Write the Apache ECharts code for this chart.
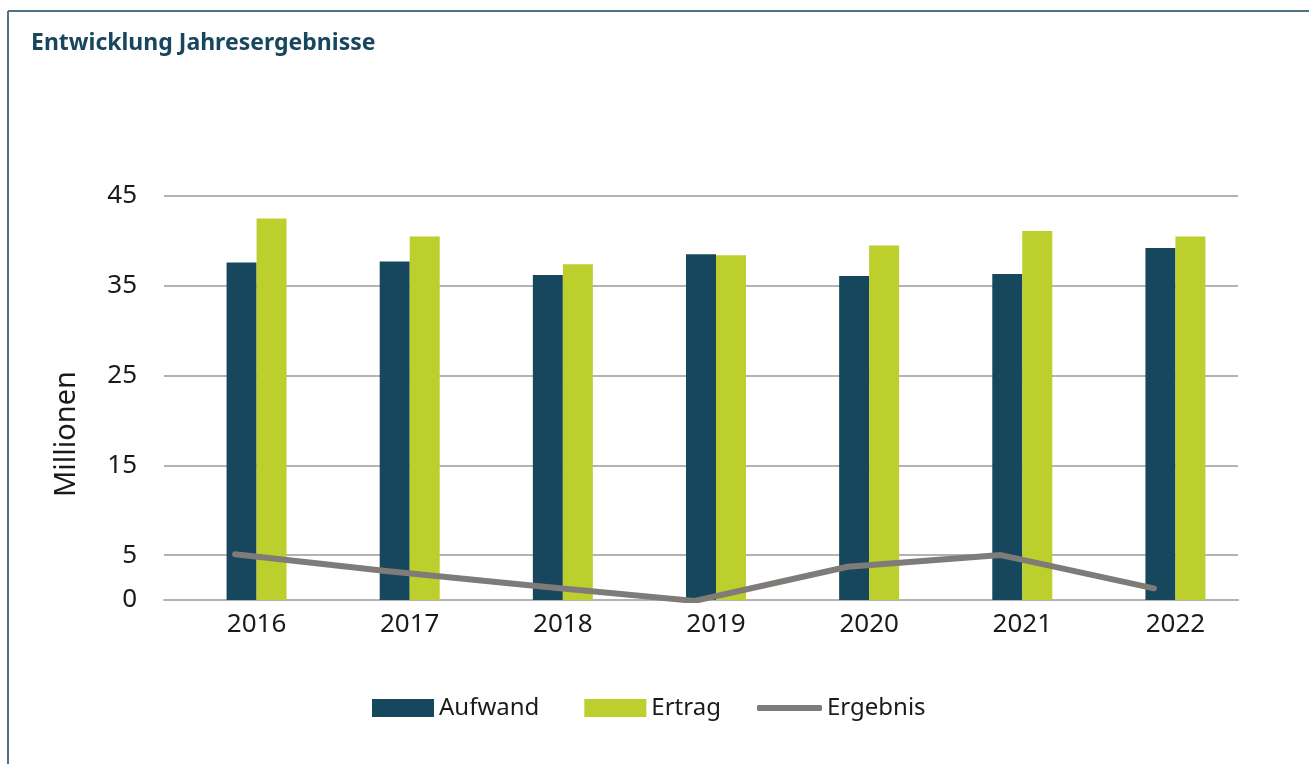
<!DOCTYPE html>
<html>
<head>
<meta charset="utf-8">
<script src="https://cdn.jsdelivr.net/npm/echarts@6.0.0/dist/echarts.min.js"></script>
<style>
  html, body { margin: 0; padding: 0; background: #fff; }
  #chart { width: 1309px; height: 764px; }
</style>
</head>
<body>
<div id="chart"></div>
<script>
var years = ['2016', '2017', '2018', '2019', '2020', '2021', '2022'];
var aufwand = [37.6, 37.7, 36.2, 38.5, 36.1, 36.3, 39.2];
var ertrag = [42.5, 40.5, 37.4, 38.4, 39.5, 41.1, 40.5];
var ergebnis = [5.1, 3.2, 1.5, -0.1, 3.7, 5.0, 1.3];
var yTicks = [0, 5, 15, 25, 35, 45];

var myChart = echarts.init(document.getElementById('chart'));

var font = 'Noto Sans';
var gridColors = [];
for (var v = 0; v <= 45; v += 5) {
  gridColors.push(yTicks.indexOf(v) >= 0 ? '#b3b3b3' : 'rgba(0,0,0,0)');
}

var option = {
  animation: false,
  textStyle: { fontFamily: font },
  graphic: [
    {
      type: 'line',
      shape: { x1: 8, y1: 11, x2: 1309, y2: 11 },
      style: { stroke: '#4d7284', lineWidth: 2 }
    },
    {
      type: 'line',
      shape: { x1: 8, y1: 11, x2: 8, y2: 764 },
      style: { stroke: '#4d7284', lineWidth: 2 }
    },
    {
      type: 'text',
      left: 31,
      top: 32,
      style: {
        text: 'Entwicklung Jahresergebnisse',
        font: 'bold 23px "Noto Sans"',
        fill: '#17475c'
      }
    },
    {
      type: 'text',
      x: 67,
      y: 434,
      rotation: Math.PI / 2,
      style: {
        text: 'Millionen',
        font: '29px "Noto Sans"',
        fill: '#1a1a1a',
        align: 'center',
        verticalAlign: 'middle'
      }
    }
  ],
  legend: [
    {
      top: 691,
      left: 367,
      itemWidth: 62,
      itemHeight: 18,
      itemGap: 45,
      textStyle: { fontSize: 24, color: '#1a1a1a', fontFamily: font },
      data: [
        { name: 'Aufwand', icon: 'rect' },
        { name: 'Ertrag', icon: 'rect' }
      ]
    },
    {
      top: 691,
      left: 752,
      itemWidth: 65,
      itemHeight: 6,
      textStyle: { fontSize: 24, color: '#1a1a1a', fontFamily: font },
      data: [
        { name: 'Ergebnis', icon: 'roundRect' }
      ]
    }
  ],
  grid: [
    { left: 164, right: 71, top: 196, bottom: 164 },
    { left: 180, right: 57, top: 196, bottom: 164 }
  ],
  xAxis: [
    {
      gridIndex: 0,
      type: 'value',
      min: 0,
      max: 1,
      axisLine: { show: true, lineStyle: { color: '#b3b3b3', width: 2 } },
      axisTick: { show: false },
      axisLabel: { show: false },
      splitLine: { show: false }
    },
    {
      gridIndex: 1,
      type: 'category',
      data: years,
      axisLine: { show: false },
      axisTick: { show: false },
      axisLabel: { fontSize: 26, color: '#1a1a1a', margin: 12, fontFamily: font }
    },
    {
      gridIndex: 1,
      type: 'value',
      show: false,
      min: -0.36,
      max: 6.64
    }
  ],
  yAxis: [
    {
      gridIndex: 0,
      type: 'value',
      min: 0,
      max: 45,
      interval: 5,
      axisLine: { show: false },
      axisTick: { show: false },
      axisLabel: {
        fontSize: 26,
        color: '#1a1a1a',
        margin: 27,
        fontFamily: font,
        formatter: function (val) {
          return yTicks.indexOf(val) >= 0 ? String(val) : '';
        }
      },
      splitLine: { lineStyle: { color: gridColors, width: 2 } }
    },
    {
      gridIndex: 1,
      type: 'value',
      min: 0,
      max: 45,
      show: false,
      splitLine: { show: false }
    }
  ],
  series: [
    {
      name: 'Aufwand',
      type: 'bar',
      xAxisIndex: 1,
      yAxisIndex: 1,
      barWidth: 30,
      barGap: '0%',
      itemStyle: { color: '#17475c' },
      data: aufwand
    },
    {
      name: 'Ertrag',
      type: 'bar',
      xAxisIndex: 1,
      yAxisIndex: 1,
      barWidth: 30,
      itemStyle: { color: '#bdcf2c' },
      data: ertrag
    },
    {
      name: 'Ergebnis',
      type: 'line',
      xAxisIndex: 2,
      yAxisIndex: 1,
      symbol: 'none',
      z: 5,
      lineStyle: { color: '#7f7b78', width: 6, cap: 'round', join: 'round' },
      itemStyle: { color: '#7f7b78' },
      data: ergebnis.map(function (v, i) { return [i, v]; })
    }
  ]
};

myChart.setOption(option);
window.addEventListener('resize', function () {
  myChart.resize();
});
</script>
</body>
</html>
